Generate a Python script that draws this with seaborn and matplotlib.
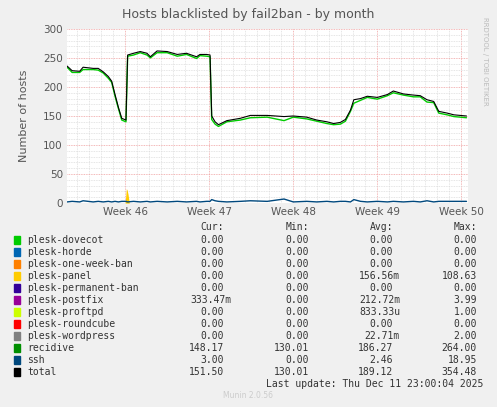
import numpy as np
import pandas as pd
import seaborn as sns
import matplotlib.pyplot as plt
from matplotlib.ticker import MultipleLocator

# week positions and totals
weeks = [45.31, 45.37, 45.46, 45.50, 45.62, 45.68, 45.74, 45.80, 45.84, 45.88, 45.92, 45.96,
         46.01, 46.03, 46.10, 46.18, 46.26, 46.30, 46.38, 46.50, 46.62, 46.73, 46.85, 46.89,
         46.97, 47.01, 47.03, 47.07, 47.11, 47.21, 47.37, 47.49, 47.69, 47.89, 48.00, 48.16,
         48.28, 48.40, 48.48, 48.56, 48.62, 48.68, 48.72, 48.80, 48.88, 49.00, 49.12, 49.19,
         49.31, 49.43, 49.51, 49.59, 49.67, 49.73, 49.83, 49.91, 50.06]
total = [236, 228, 227, 234, 232, 232, 226, 218, 210, 187, 165, 146,
         143, 255, 258, 261, 258, 252, 262, 261, 256, 258, 252, 256,
         256, 255, 150, 140, 135, 142, 146, 151, 151, 149, 150, 148,
         143, 140, 137, 139, 144, 160, 178, 180, 184, 182, 187, 193,
         188, 186, 185, 178, 175, 158, 155, 152, 150]
ssh = [2, 3, 2, 4, 2, 3, 2, 3, 2, 3, 2, 3,
       3, 2, 3, 2, 3, 2, 3, 2, 3, 2, 3, 2,
       3, 3, 6, 4, 3, 2, 3, 4, 3, 7, 2, 3,
       2, 3, 2, 3, 3, 2, 6, 3, 2, 3, 2, 3,
       2, 3, 2, 4, 2, 3, 3, 3, 3]
recidive = [t - s for t, s in zip(total, ssh)]
panel_weeks = [46.00, 46.015, 46.025, 46.035, 46.05]
panel = [0, 25, 22, 15, 0]

names = ["plesk-dovecot", "plesk-horde", "plesk-one-week-ban", "plesk-panel",
         "plesk-permanent-ban", "plesk-postfix", "plesk-proftpd", "plesk-roundcube",
         "plesk-wordpress", "recidive", "ssh", "total"]
colors = ["#00CC00", "#0066B3", "#FF8000", "#FFCC00", "#330099", "#990099",
          "#CCFF00", "#FF0000", "#808080", "#008F00", "#00487D", "#000000"]
cur = ["0.00", "0.00", "0.00", "0.00", "0.00", "333.47m", "0.00", "0.00", "0.00", "148.17", "3.00", "151.50"]
mins = ["0.00", "0.00", "0.00", "0.00", "0.00", "0.00", "0.00", "0.00", "0.00", "130.01", "0.00", "130.01"]
avgs = ["0.00", "0.00", "0.00", "156.56m", "0.00", "212.72m", "833.33u", "0.00", "22.71m", "186.27", "2.46", "189.12"]
maxs = ["0.00", "0.00", "0.00", "108.63", "0.00", "3.99", "1.00", "0.00", "2.00", "264.00", "18.95", "354.48"]

sns.set_style("white")
plt.rcParams['font.family'] = ['DejaVu Sans']
fig = plt.figure(figsize=(4.97, 4.07), dpi=100, facecolor="#F0F0F0")
ax = fig.add_axes([0.135, 0.501, 0.807, 0.428], facecolor="white")

ax.fill_between(panel_weeks, panel, color="#FFCC00", lw=0)
df = pd.DataFrame({"week": weeks, "recidive": recidive, "ssh": ssh, "total": total})
sns.lineplot(data=df, x="week", y="recidive", ax=ax, color="#00CC00", lw=1.0)
sns.lineplot(data=df, x="week", y="ssh", ax=ax, color="#00487D", lw=1.0)
sns.lineplot(data=df, x="week", y="total", ax=ax, color="black", lw=0.8)

ax.set_xlim(45.31, 50.08)
ax.set_ylim(0, 300)
ax.xaxis.set_minor_locator(MultipleLocator(1 / 7))
ax.yaxis.set_major_locator(MultipleLocator(50))
ax.yaxis.set_minor_locator(MultipleLocator(10))
ax.set_xticks([46, 47, 48, 49, 50])
ax.set_xticklabels(["Week 46", "Week 47", "Week 48", "Week 49", "Week 50"])
ax.grid(which="minor", color="#DDDDDD", ls=(0, (1, 1)), lw=0.6)
ax.grid(which="major", color="#F0A0A0", ls=(0, (1, 1)), lw=0.6)
ax.tick_params(which="both", length=0, labelsize=7.5, colors="#555555", pad=3)
for s in ax.spines.values():
    s.set_visible(False)
ax.set_xlabel("")
ax.set_ylabel("Number of hosts", fontsize=8, color="#555555", labelpad=10)
fig.text(0.5, 0.955, "Hosts blacklisted by fail2ban - by month", ha="center",
         fontsize=9, color="#555555")
fig.text(0.975, 0.85, "RRDTOOL / TOBI OETIKER", rotation=270, ha="center", va="center",
         fontsize=5, color="#BBBBBB")

mono = "DejaVu Sans Mono"
col_x = [224, 309, 393, 477]
for cx, h in zip(col_x, ["Cur:", "Min:", "Avg:", "Max:"]):
    fig.text(cx / 497, 1 - 227 / 407, h, ha="right", va="center", family=mono, fontsize=7, color="#333333")
for i, n in enumerate(names):
    y = 1 - (240 + 12 * i) / 407
    fig.patches.append(plt.Rectangle((14 / 497, y - 0.009), 6 / 497, 0.018,
                                     transform=fig.transFigure, color=colors[i]))
    fig.text(27 / 497, y, n, va="center", family=mono, fontsize=7, color="#333333")
    for cx, v in zip(col_x, [cur[i], mins[i], avgs[i], maxs[i]]):
        fig.text((cx - (0 if v[-1].isdigit() else -7)) / 497, y, v, ha="right", va="center",
                 family=mono, fontsize=7, color="#333333")
fig.text(483 / 497, 1 - 384 / 407, "Last update: Thu Dec 11 23:00:04 2025", ha="right", va="center",
         family=mono, fontsize=7, color="#333333")
fig.text(248 / 497, 1 - 396 / 407, "Munin 2.0.56", ha="center", va="center", fontsize=5.5, color="#CCCCCC")

fig.savefig("out.png", dpi=100, facecolor=fig.get_facecolor())
